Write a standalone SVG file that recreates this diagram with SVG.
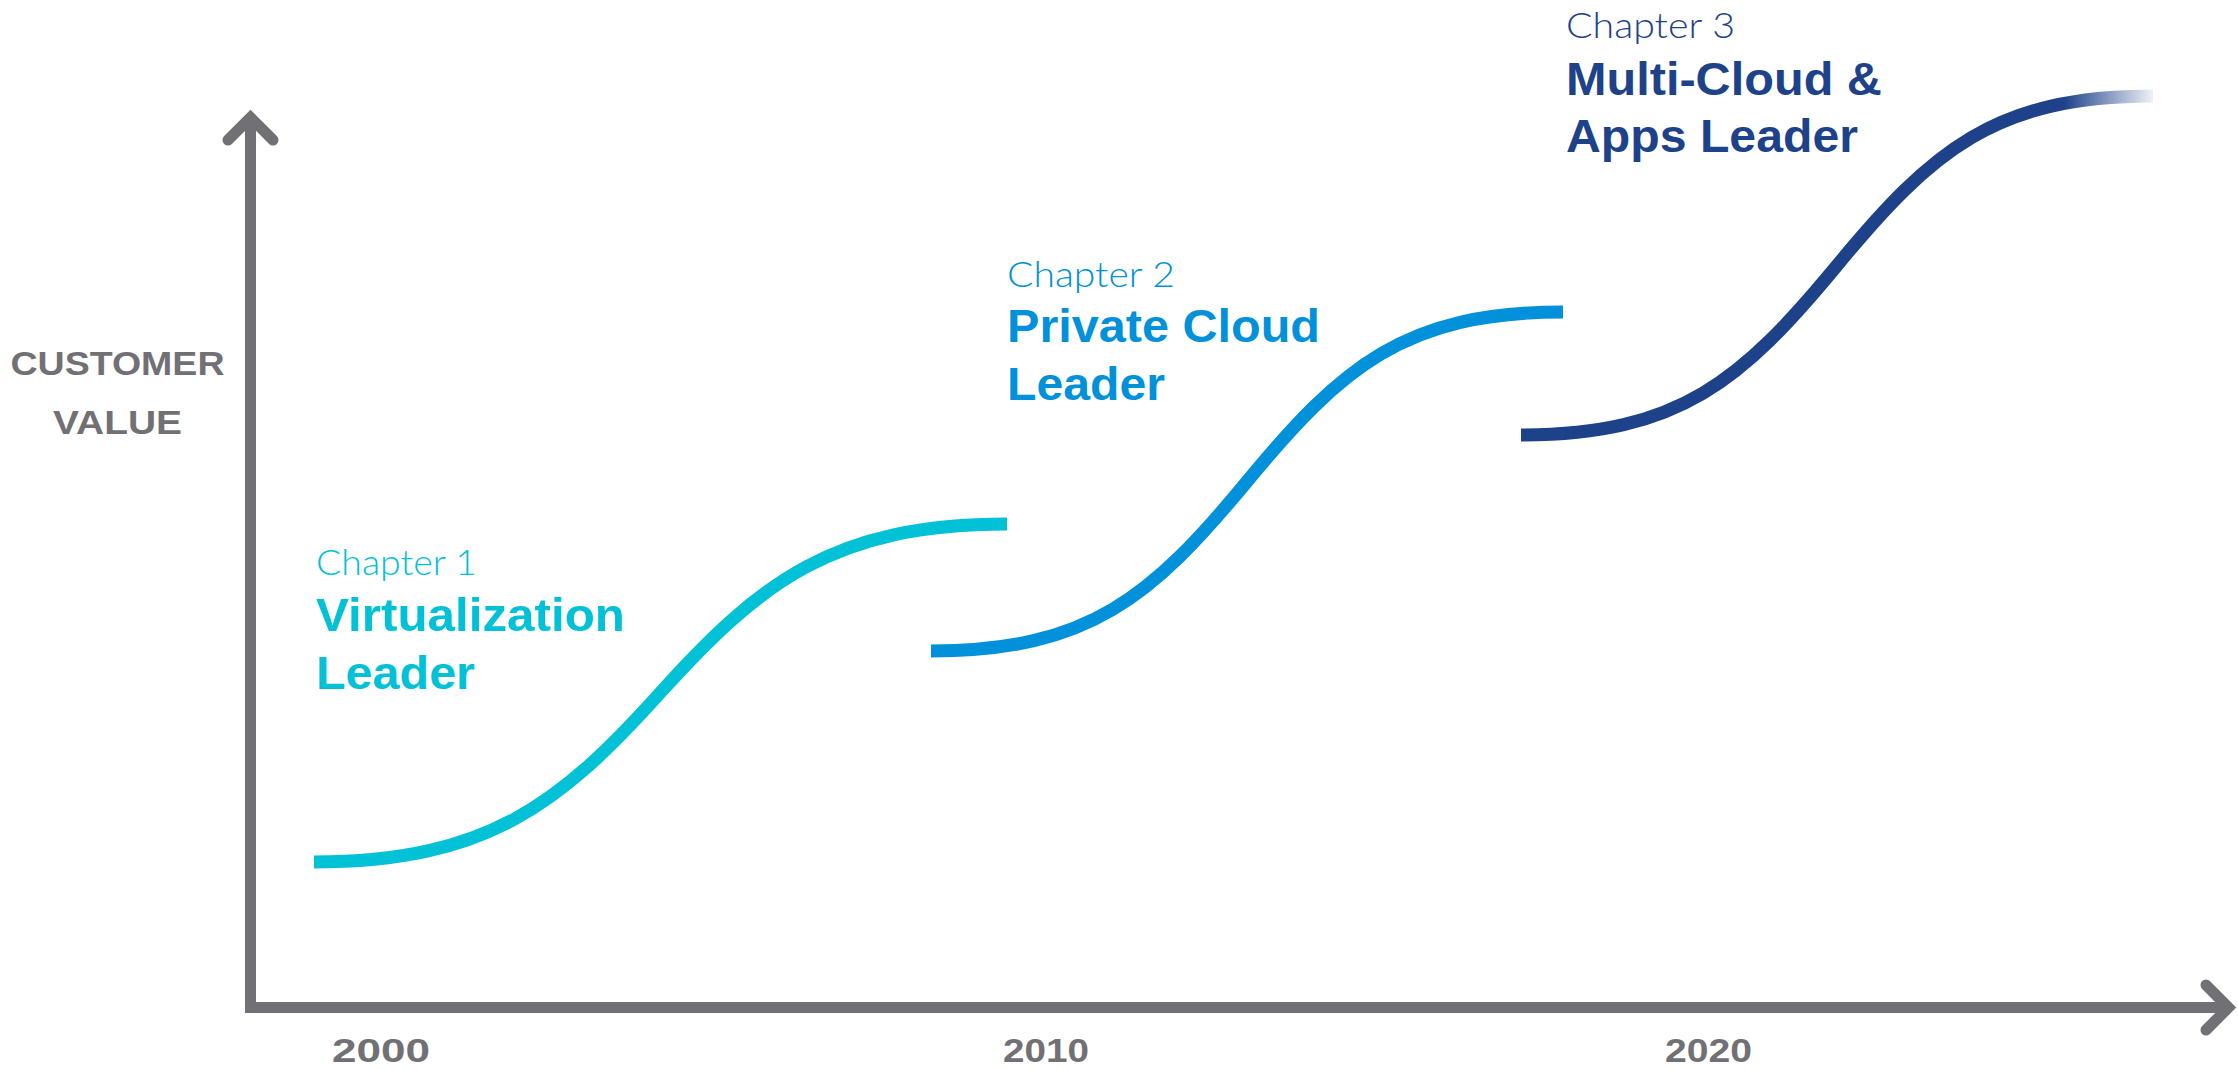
<svg xmlns="http://www.w3.org/2000/svg" width="2238" height="1070" viewBox="0 0 2238 1070">
<defs>
<linearGradient id="fade3" gradientUnits="userSpaceOnUse" x1="1521" y1="0" x2="2152" y2="0">
<stop offset="0" stop-color="#1D428A" stop-opacity="1"/>
<stop offset="0.86" stop-color="#1D428A" stop-opacity="1"/>
<stop offset="1" stop-color="#1D428A" stop-opacity="0.08"/>
</linearGradient>
<style>
.axis{fill:none;stroke:#717074;stroke-width:11}
.head{fill:none;stroke:#717074;stroke-width:11;stroke-linecap:round;stroke-linejoin:miter}
.curve{fill:none;stroke-width:13;stroke-linecap:butt}
.lbl{font-family:"Liberation Sans",Arial,sans-serif;font-weight:bold;fill:#717074;font-size:34px}
.ch{font-family:Lato,"Open Sans","Liberation Sans",sans-serif;font-weight:300;font-size:36px}
.ttl{font-family:"Liberation Sans",Arial,sans-serif;font-weight:bold;font-size:47px}
.c1{fill:#00C1D5}.c2{fill:#0091DA}.c3{fill:#1D428A}
</style>
</defs>
<rect width="2238" height="1070" fill="#ffffff"/>
<g id="axes">
<polyline class="axis" points="250.5,118 250.5,1007.5 2229,1007.5"/>
<polyline class="head" points="228,140 250.5,117.5 273,140"/>
<polyline class="head" points="2206,985 2228.5,1007.5 2206,1030"/>
</g>
<g id="axis-labels">
<text class="lbl" x="10.5" y="375" textLength="214" lengthAdjust="spacingAndGlyphs">CUSTOMER</text>
<text class="lbl" x="53" y="434" textLength="129" lengthAdjust="spacingAndGlyphs">VALUE</text>
<text class="lbl" x="332" y="1061.5" textLength="98" lengthAdjust="spacingAndGlyphs">2000</text>
<text class="lbl" x="1003" y="1061.5" textLength="86" lengthAdjust="spacingAndGlyphs">2010</text>
<text class="lbl" x="1665" y="1061.5" textLength="87" lengthAdjust="spacingAndGlyphs">2020</text>
</g>
<g id="connectors">
<path id="curve1" class="curve" stroke="#00C1D5" d="M314,862 C487,862 560,804 660,693 C760,582 834,524 1007,524"/>
<path id="curve2" class="curve" stroke="#0091DA" d="M931,651 C1089,651 1152,596.5 1247,481.5 C1342,366.5 1405,312 1563,312"/>
<path id="curve3" class="curve" stroke="url(#fade3)" d="M1521,435 C1679,435 1742,380.5 1837,265.5 C1932,150.5 1995,96 2153,96"/>
</g>
<g id="chapter1">
<text class="ch c1" x="316" y="575" textLength="161" lengthAdjust="spacingAndGlyphs">Chapter 1</text>
<text class="ttl c1" x="316" y="631" textLength="309" lengthAdjust="spacingAndGlyphs">Virtualization</text>
<text class="ttl c1" x="316" y="688.5" textLength="159" lengthAdjust="spacingAndGlyphs">Leader</text>
</g>
<g id="chapter2">
<text class="ch c2" x="1007" y="287" textLength="168" lengthAdjust="spacingAndGlyphs">Chapter 2</text>
<text class="ttl c2" x="1007" y="342" textLength="313" lengthAdjust="spacingAndGlyphs">Private Cloud</text>
<text class="ttl c2" x="1007" y="400" textLength="158" lengthAdjust="spacingAndGlyphs">Leader</text>
</g>
<g id="chapter3">
<text class="ch c3" x="1566" y="37.5" textLength="169" lengthAdjust="spacingAndGlyphs">Chapter 3</text>
<text class="ttl c3" x="1566" y="95" textLength="316" lengthAdjust="spacingAndGlyphs">Multi-Cloud &amp;</text>
<text class="ttl c3" x="1566" y="151.5" textLength="292" lengthAdjust="spacingAndGlyphs">Apps Leader</text>
</g>
</svg>
